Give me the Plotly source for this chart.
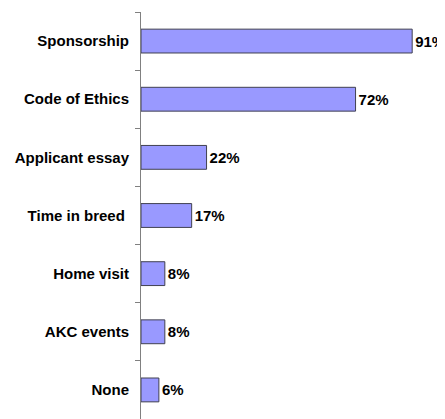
import plotly.graph_objects as go

categories = ["Sponsorship", "Code of Ethics", "Applicant essay", "Time in breed ", "Home visit", "AKC events", "None"]
values = [91, 72, 22, 17, 8, 8, 6]
labels = ["91%", "72%", "22%", "17%", "8%", "8%", "6%"]

FONT = "Liberation Sans, Arial, sans-serif"

fig = go.Figure(go.Bar(
    y=categories,
    x=values,
    orientation="h",
    width=0.41,
    marker=dict(color="#9999FF", line=dict(color="#404050", width=1)),
    text=labels,
    textposition="outside",
    cliponaxis=False,
    textfont=dict(family=FONT, size=15, color="#000000", weight="bold"),
))

fig.update_layout(
    width=437, height=411,
    margin=dict(l=133, r=6, t=4, b=0),
    paper_bgcolor="white", plot_bgcolor="white",
    showlegend=False,
    font=dict(family=FONT, size=15, color="#000000", weight="bold"),
    bargap=0.59,
)
fig.update_xaxes(range=[0, 100], visible=False, fixedrange=True)
fig.update_yaxes(
    autorange=False, range=[6.5, -0.5], automargin=False,
    categoryorder="array", categoryarray=categories,
    showline=True, linecolor="#808080", linewidth=1,
    ticks="outside", tickson="boundaries", ticklen=5, tickcolor="#808080",
    showgrid=False, ticklabelstandoff=8,
    tickfont=dict(family=FONT, size=15, color="#000000", weight="bold"),
)

fig.write_html("out.html")
